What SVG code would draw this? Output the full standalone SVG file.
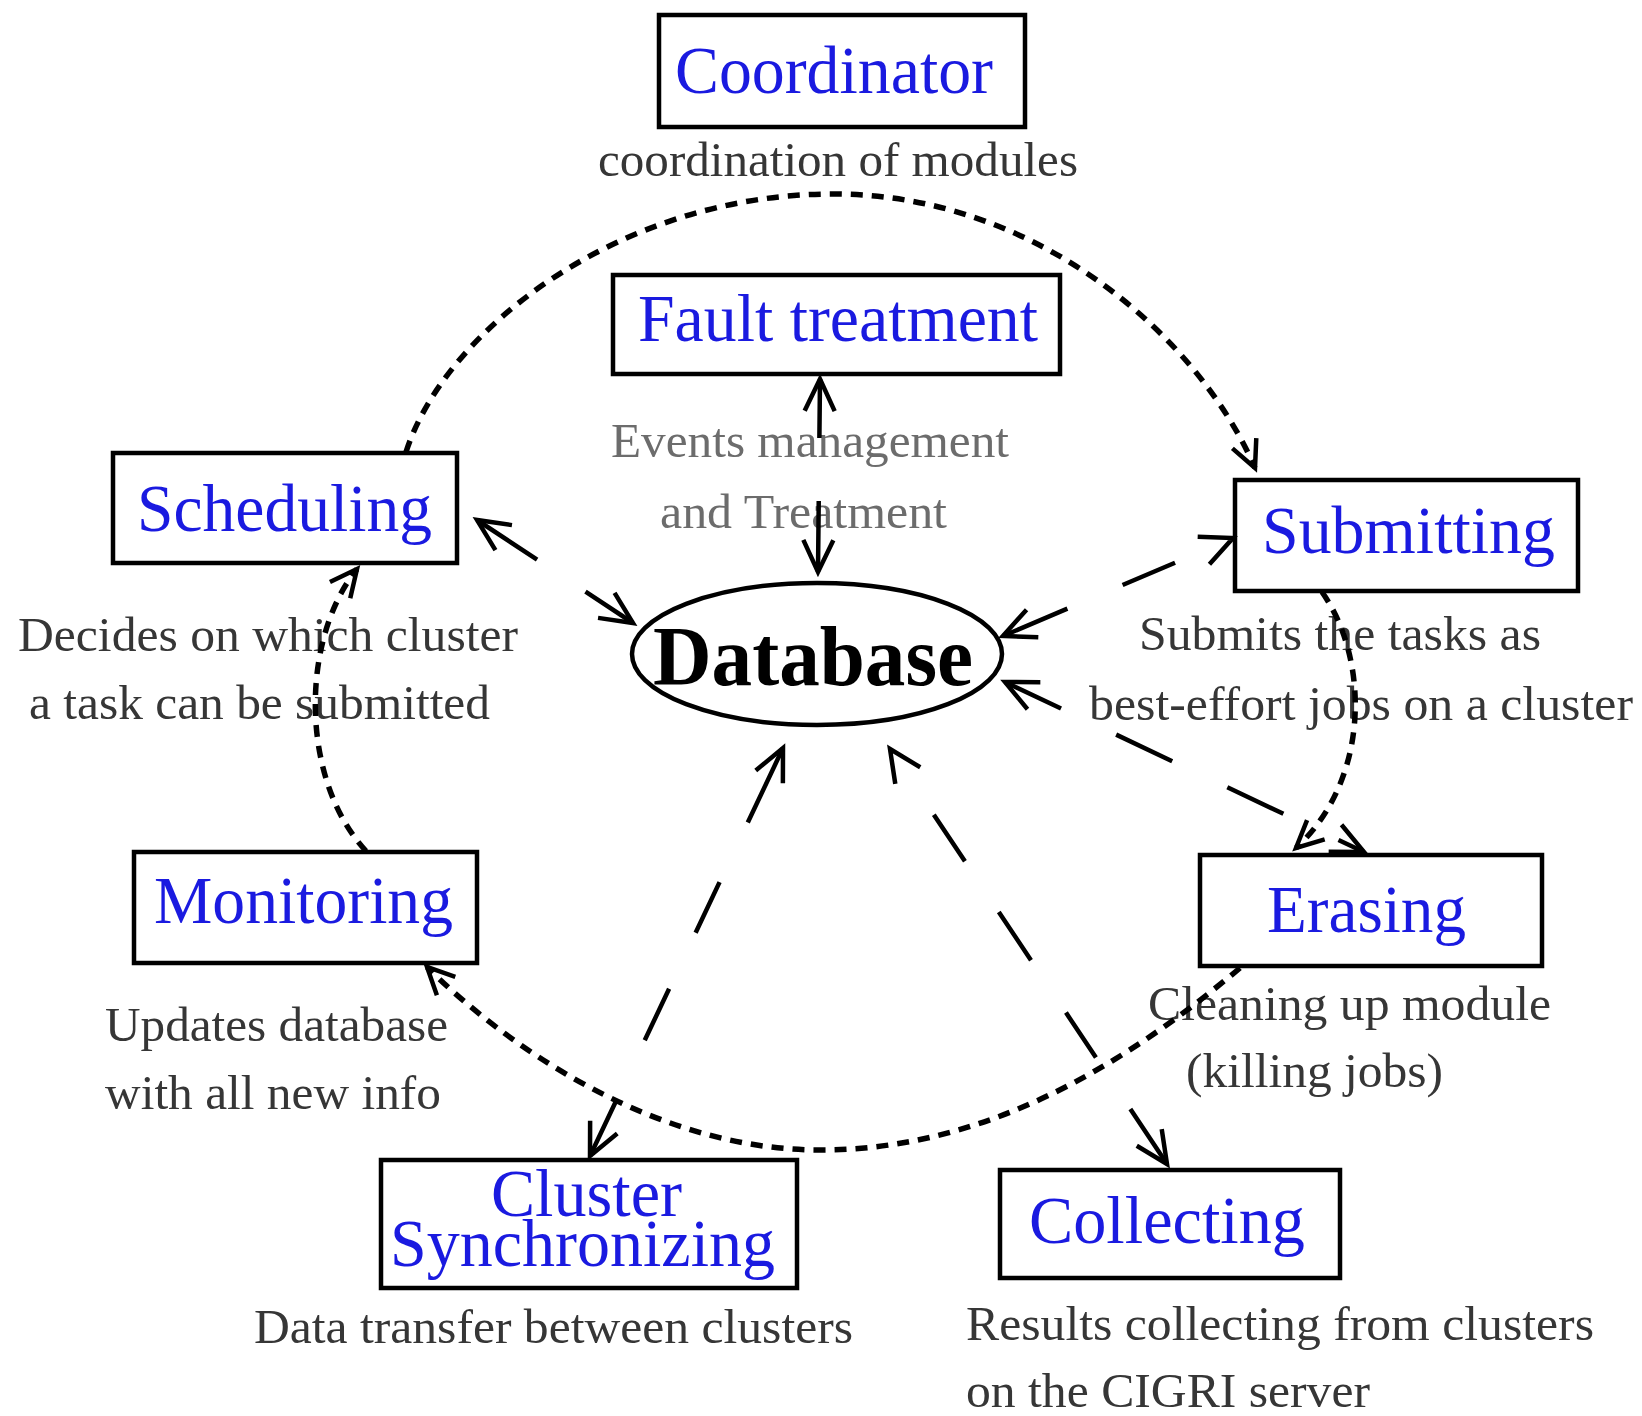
<svg xmlns="http://www.w3.org/2000/svg" width="1642" height="1416" viewBox="0 0 1642 1416">
<style>
  .box { fill: #ffffff; stroke: #000000; stroke-width: 4.5; }
  .lbl { font-family: "Liberation Serif", "Times New Roman", serif; font-size: 67px; fill: #1a1ae0; }
  .desc { font-family: "Liberation Serif", "Times New Roman", serif; font-size: 48px; fill: #363636; }
  .desc-light { font-family: "Liberation Serif", "Times New Roman", serif; font-size: 48px; fill: #6c6c6c; }
  .db { font-family: "Liberation Serif", "Times New Roman", serif; font-size: 84px; font-weight: bold; fill: #000000; }
  .dotted { fill: none; stroke: #000000; stroke-width: 5.5; stroke-dasharray: 12 9; }
  .dashed { fill: none; stroke: #000000; stroke-width: 4.5; }
</style>
<defs>
  <marker id="ah" viewBox="-40 -22 46 44" refX="0" refY="0" markerWidth="46" markerHeight="44" markerUnits="userSpaceOnUse" orient="auto-start-reverse">
    <path d="M-32,-15 L0,0 L-32,15" fill="none" stroke="#000000" stroke-width="4.5"/>
  </marker>
  <marker id="ahs" viewBox="-40 -22 46 44" refX="0" refY="0" markerWidth="46" markerHeight="44" markerUnits="userSpaceOnUse" orient="auto-start-reverse">
    <path d="M-27,-13 L0,0 L-27,13" fill="none" stroke="#000000" stroke-width="4.5"/>
  </marker>
</defs>
<rect x="0" y="0" width="1642" height="1416" fill="#ffffff"/>

<g id="node-coordinator">
  <rect class="box" x="659" y="15" width="366" height="112"/>
  <text class="lbl" x="675" y="93" textLength="318" lengthAdjust="spacingAndGlyphs">Coordinator</text>
  <text class="desc" x="598" y="176" textLength="480" lengthAdjust="spacingAndGlyphs">coordination of modules</text>
</g>

<g id="node-fault-treatment">
  <rect class="box" x="613" y="275" width="447" height="99"/>
  <text class="lbl" x="638" y="341" textLength="400" lengthAdjust="spacingAndGlyphs">Fault treatment</text>
  <text class="desc-light" x="611" y="457" textLength="398" lengthAdjust="spacingAndGlyphs">Events management</text>
  <text class="desc-light" x="660" y="528" textLength="287" lengthAdjust="spacingAndGlyphs">and Treatment</text>
</g>

<g id="node-scheduling">
  <rect class="box" x="113" y="453" width="344" height="110"/>
  <text class="lbl" x="137" y="531" textLength="295" lengthAdjust="spacingAndGlyphs">Scheduling</text>
  <text class="desc" x="18" y="651" textLength="500" lengthAdjust="spacingAndGlyphs">Decides on which cluster</text>
  <text class="desc" x="29" y="719" textLength="461" lengthAdjust="spacingAndGlyphs">a task can be submitted</text>
</g>

<g id="node-submitting">
  <rect class="box" x="1235" y="480" width="343" height="111"/>
  <text class="lbl" x="1262" y="553" textLength="293" lengthAdjust="spacingAndGlyphs">Submitting</text>
  <text class="desc" x="1139" y="650" textLength="402" lengthAdjust="spacingAndGlyphs">Submits the tasks as</text>
  <text class="desc" x="1089" y="720" textLength="544" lengthAdjust="spacingAndGlyphs">best-effort jobs on a cluster</text>
</g>

<g id="node-database">
  <ellipse cx="817" cy="654" rx="185" ry="71" fill="#ffffff" stroke="#000000" stroke-width="4.5"/>
  <text class="db" x="653" y="685" textLength="320" lengthAdjust="spacingAndGlyphs">Database</text>
</g>

<g id="node-monitoring">
  <rect class="box" x="134" y="852" width="343" height="111"/>
  <text class="lbl" x="154" y="923" textLength="299" lengthAdjust="spacingAndGlyphs">Monitoring</text>
  <text class="desc" x="105" y="1041" textLength="343" lengthAdjust="spacingAndGlyphs">Updates database</text>
  <text class="desc" x="105" y="1109" textLength="336" lengthAdjust="spacingAndGlyphs">with all new info</text>
</g>

<g id="node-erasing">
  <rect class="box" x="1200" y="855" width="342" height="111"/>
  <text class="lbl" x="1267" y="932" textLength="199" lengthAdjust="spacingAndGlyphs">Erasing</text>
  <text class="desc" x="1148" y="1020" textLength="403" lengthAdjust="spacingAndGlyphs">Cleaning up module</text>
  <text class="desc" x="1186" y="1087" textLength="257" lengthAdjust="spacingAndGlyphs">(killing jobs)</text>
</g>

<g id="node-cluster-synchronizing">
  <rect class="box" x="381" y="1160" width="416" height="128"/>
  <text class="lbl" x="491" y="1216" textLength="191" lengthAdjust="spacingAndGlyphs">Cluster</text>
  <text class="lbl" x="390" y="1266" textLength="385" lengthAdjust="spacingAndGlyphs">Synchronizing</text>
  <text class="desc" x="254" y="1343" textLength="599" lengthAdjust="spacingAndGlyphs">Data transfer between clusters</text>
</g>

<g id="node-collecting">
  <rect class="box" x="1000" y="1170" width="340" height="108"/>
  <text class="lbl" x="1029" y="1243" textLength="276" lengthAdjust="spacingAndGlyphs">Collecting</text>
  <text class="desc" x="966" y="1340" textLength="628" lengthAdjust="spacingAndGlyphs">Results collecting from clusters</text>
  <text class="desc" x="966" y="1407" textLength="404" lengthAdjust="spacingAndGlyphs">on the CIGRI server</text>
</g>

<g id="connectors">
  <!-- dotted cycle -->
  <path class="dotted" d="M406,452 C445,330 620,194 833,194 C1040,194 1200,340 1255,468" marker-end="url(#ahs)"/>
  <path class="dotted" d="M1322,592 C1370,660 1370,780 1296,848" marker-end="url(#ahs)"/>
  <path class="dotted" d="M1240,968 C1130,1060 990,1150 820,1150 C650,1150 500,1040 427,967" marker-end="url(#ahs)"/>
  <path class="dotted" d="M366,851 C300,780 300,640 357,569" marker-end="url(#ahs)"/>
  <!-- dashed links with the database -->
  <path class="dashed" d="M820,379 L818,572" stroke-dasharray="59 63 71 10" marker-start="url(#ah)" marker-end="url(#ah)"/>
  <path class="dashed" d="M477,520 L633,623" stroke-dasharray="72 58 57 10" marker-start="url(#ah)" marker-end="url(#ah)"/>
  <path class="dashed" d="M1003,636 L1233,538" stroke-dasharray="70 60 57 70" marker-start="url(#ah)" marker-end="url(#ah)"/>
  <path class="dashed" d="M1005,682 L1364,852" stroke-dasharray="62 61" marker-start="url(#ah)" marker-end="url(#ah)"/>
  <path class="dashed" d="M590,1156 L783,748" stroke-dasharray="62 66 57 62 56 66 86 10" marker-start="url(#ah)" marker-end="url(#ah)"/>
  <path class="dashed" d="M1167,1164 L890,749" stroke-dasharray="66 62 54 63 58 61 56 80" marker-start="url(#ah)" marker-end="url(#ah)"/>
</g>
</svg>
